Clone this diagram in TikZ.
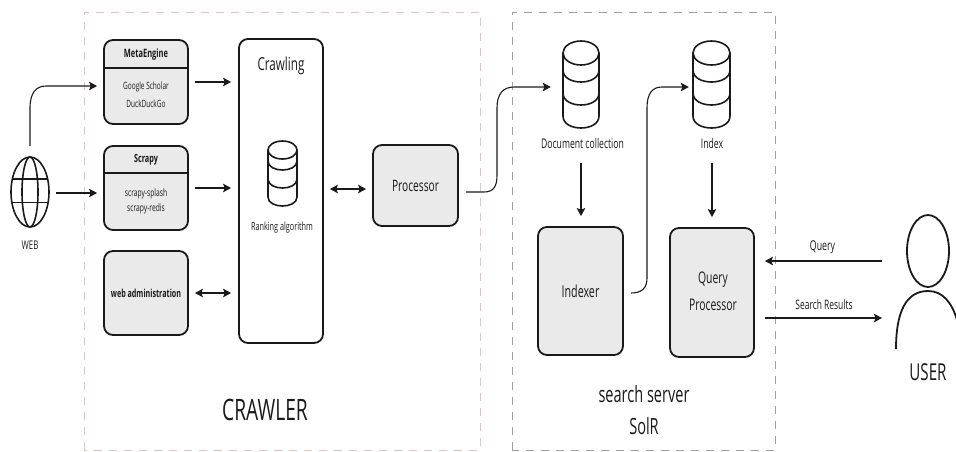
\documentclass[tikz,border=0pt]{standalone}
\usepackage{fontspec}
\setmainfont[FakeStretch=0.65]{Open Sans}
\usetikzlibrary{arrows.meta,calc}
\definecolor{boxfill}{HTML}{EAEAEA}
\definecolor{pinkdash}{HTML}{E3C4C6}
\definecolor{greydash}{HTML}{A0A0A0}
\definecolor{ink}{HTML}{1A1A1A}
\newcommand{\fs}[1]{\fontsize{#1}{#1}\selectfont}
\tikzset{
  box/.style={draw=ink,fill=boxfill,line width=1.8pt,rounded corners=9pt,inner sep=0pt,align=center,text=ink},
  plainbox/.style={box,fill=white},
  arr/.style={draw=ink,line width=1.1pt,-{Stealth[length=8pt,width=8.5pt,inset=1.5pt]}},
  dblarr/.style={draw=ink,line width=1.1pt,{Stealth[length=8pt,width=8.5pt,inset=1.5pt]}-{Stealth[length=8pt,width=8.5pt,inset=1.5pt]}},
  lbl/.style={inner sep=0pt,text=ink,align=center},
  zone/.style={line width=0.9pt,dash pattern=on 8pt off 7pt},
  sym/.style={draw=ink,line width=1.6pt}
}
% name, cx, top, first offset, step, rx, ry
\newcommand{\cyl}[7]{%
  \pgfmathsetmacro{\xl}{#2-#6}\pgfmathsetmacro{\xr}{#2+#6}
  \pgfmathsetmacro{\ya}{#3+#7}
  \pgfmathsetmacro{\yb}{\ya+#4}\pgfmathsetmacro{\yc}{\yb+#5}\pgfmathsetmacro{\yd}{\yc+#5}
  \pgfmathsetmacro{\yh}{\yb+#5*0.5}
  \pgfmathsetmacro{\cs}{#7*1.333}
  \node[inner sep=0pt,minimum width=2*#6 pt,minimum height=10pt] (#1) at (#2,\yh) {};
  \draw[sym] (#2,\ya) ellipse [x radius=#6,y radius=#7];
  \draw[sym] (\xl,\ya) -- (\xl,\yd) .. controls (\xl,\yd+\cs) and (\xr,\yd+\cs) .. (\xr,\yd) -- (\xr,\ya);
  \draw[sym] (\xl,\yb) .. controls (\xl,\yb+\cs) and (\xr,\yb+\cs) .. (\xr,\yb);
  \draw[sym] (\xl,\yc) .. controls (\xl,\yc+\cs) and (\xr,\yc+\cs) .. (\xr,\yc);
}
\begin{document}
\begin{tikzpicture}[x=1pt,y=-1pt]
\useasboundingbox (0,0) rectangle (956,451);
% zones
\draw[zone,pinkdash] (84,450) -- (84,12) -- (480,12) -- (480,450) -- cycle;
\draw[zone,greydash] (512,450) -- (512,12) -- (775,12) -- (775,450) -- cycle;
% boxes
\node[box,minimum width=84pt,minimum height=84pt] (meta) at (146,82) {};
\node[box,minimum width=84pt,minimum height=84pt] (scrapy) at (146,188) {};
\node[box,minimum width=84pt,minimum height=84pt] (admin) at (146,293) {\fs{11}\bfseries web administration};
\node[plainbox,minimum width=84pt,minimum height=304pt] (crawl) at (281,191) {};
\node[box,minimum width=85pt,minimum height=81pt] (proc) at (415.5,185.5) {\fs{15.7}Processor};
\node[box,minimum width=85pt,minimum height=128pt] (indexer) at (580.5,291) {\fs{16.5}Indexer};
\node[box,minimum width=84pt,minimum height=129pt] (qproc) at (712,292.5) {};
\draw[draw=ink,line width=1.5pt] (meta.west |- 0,68) -- (meta.east |- 0,68);
\draw[draw=ink,line width=1.5pt] (scrapy.west |- 0,173) -- (scrapy.east |- 0,173);
% box texts
\node[lbl,font=\fs{16}] (qt1) at (713,280) {Query};
\node[lbl,font=\fs{16}] (qt2) at (713,305) {Processor};
\node[lbl,font=\fs{11.5}\bfseries] (metat) at (146,55) {MetaEngine};
\node[lbl,font=\fs{10}] (metab1) at (146,87) {Google Scholar};
\node[lbl,font=\fs{10}] (metab2) at (146,104) {DuckDuckGo};
\node[lbl,font=\fs{11.2}\bfseries] (scrapyt) at (146,160) {Scrapy};
\node[lbl,font=\fs{10.3}] (scrapyb1) at (146,194) {scrapy-splash};
\node[lbl,font=\fs{10.3}] (scrapyb2) at (146,209) {scrapy-redis};
\node[lbl,font=\fs{17.9}] (crawlt) at (281,66) {Crawling};
\node[lbl,font=\fs{11.2}] (rank) at (282,228) {Ranking algorithm};
% cylinders
\cyl{rankdb}{282.5}{141}{11}{18}{14.5}{9}
\cyl{doc}{581}{41}{17}{23}{18}{12}
\cyl{idx}{711.5}{41}{17}{23}{18.5}{12}
\node[lbl,font=\fs{13.3}] (doct) at (582.5,144) {Document collection};
\node[lbl,font=\fs{13.3}] (idxt) at (712,144) {Index};
% web globe
\node[inner sep=0pt,minimum width=38pt,minimum height=70pt] (web) at (30,192) {};
\draw[sym] (web.center) ellipse [x radius=19,y radius=35];
\draw[sym] (web.center) ellipse [x radius=8,y radius=35];
\draw[sym] (12,179) -- (48,179);
\draw[sym] (12,202.5) -- (48,202.5);
\node[lbl,font=\fs{12}] (webt) at (30,245) {WEB};
% user
\node[inner sep=0pt,minimum width=42pt,minimum height=72pt] (user) at (928,251) {};
\draw[draw=ink,line width=1.8pt] (user.center) ellipse [x radius=21,y radius=36];
\draw[draw=ink,line width=1.8pt] (896,349) .. controls (896,312) and (906,291) .. (928,291) .. controls (943,291) and (952,303) .. (957,320);
\node[lbl,font=\fs{23.3}] (usert) at (928,372) {USER};
% big labels
\node[lbl,font=\fs{29.5}] (crawler) at (265,410) {CRAWLER};
\node[lbl,font=\fs{22.4}] (srv) at (644,394) {search server};
\node[lbl,font=\fs{22.4}] (solr) at (644,426) {SolR};
% connectors
\coordinate (webup) at (30,146);
\draw[arr,shorten >=6pt] (webup) -- (30,108) .. controls (30,93) and (36,86) .. (46,86) -- (meta.west |- 0,86);
\draw[arr,shorten <=7pt,shorten >=6pt] (web.east |- 0,193) -- (scrapy.west |- 0,193);
\draw[arr,shorten <=6pt,shorten >=7pt] (meta.east) -- (meta.east -| crawl.west);
\draw[arr,shorten <=6pt,shorten >=7pt] (scrapy.east) -- (scrapy.east -| crawl.west);
\draw[dblarr,shorten <=6pt,shorten >=7pt] (admin.east) -- (admin.east -| crawl.west);
\draw[dblarr,shorten <=6pt,shorten >=6pt] (crawl.east |- 0,189) -- (proc.west |- 0,189);
\coordinate (procout) at ($(proc.east |- 0,192)+(7,0)$);
\draw[arr,shorten >=12pt] (procout) -- (484,192) .. controls (494,192) and (497,186) .. (497,175) -- (497,108) .. controls (497,94) and (503,87) .. (514,87) -- (doc.west |- 0,87);
\coordinate (idxout) at ($(indexer.east |- 0,293)+(7,0)$);
\draw[arr,shorten >=4pt] (idxout) .. controls (642,293) and (647,288) .. (647,278) -- (647,108) .. controls (647,94) and (652,87) .. (662,87) -- (idx.west |- 0,87);
\draw[arr,shorten >=10pt] (doc |- 0,163) -- (indexer.north -| doc);
\draw[arr,shorten >=10pt] (qproc.north |- 0,163) -- (qproc.north);
\coordinate (qin) at (882,261);
\coordinate (sout) at (882,318);
\draw[arr,shorten >=10pt] (qin) -- (qproc.east |- qin);
\draw[arr,shorten <=10pt] (qproc.east |- sout) -- (sout);
\node[lbl,font=\fs{13.5}] (qt) at (822.5,247) {Query};
\node[lbl,font=\fs{13}] (st) at (824,305) {Search Results};
\end{tikzpicture}
\end{document}
